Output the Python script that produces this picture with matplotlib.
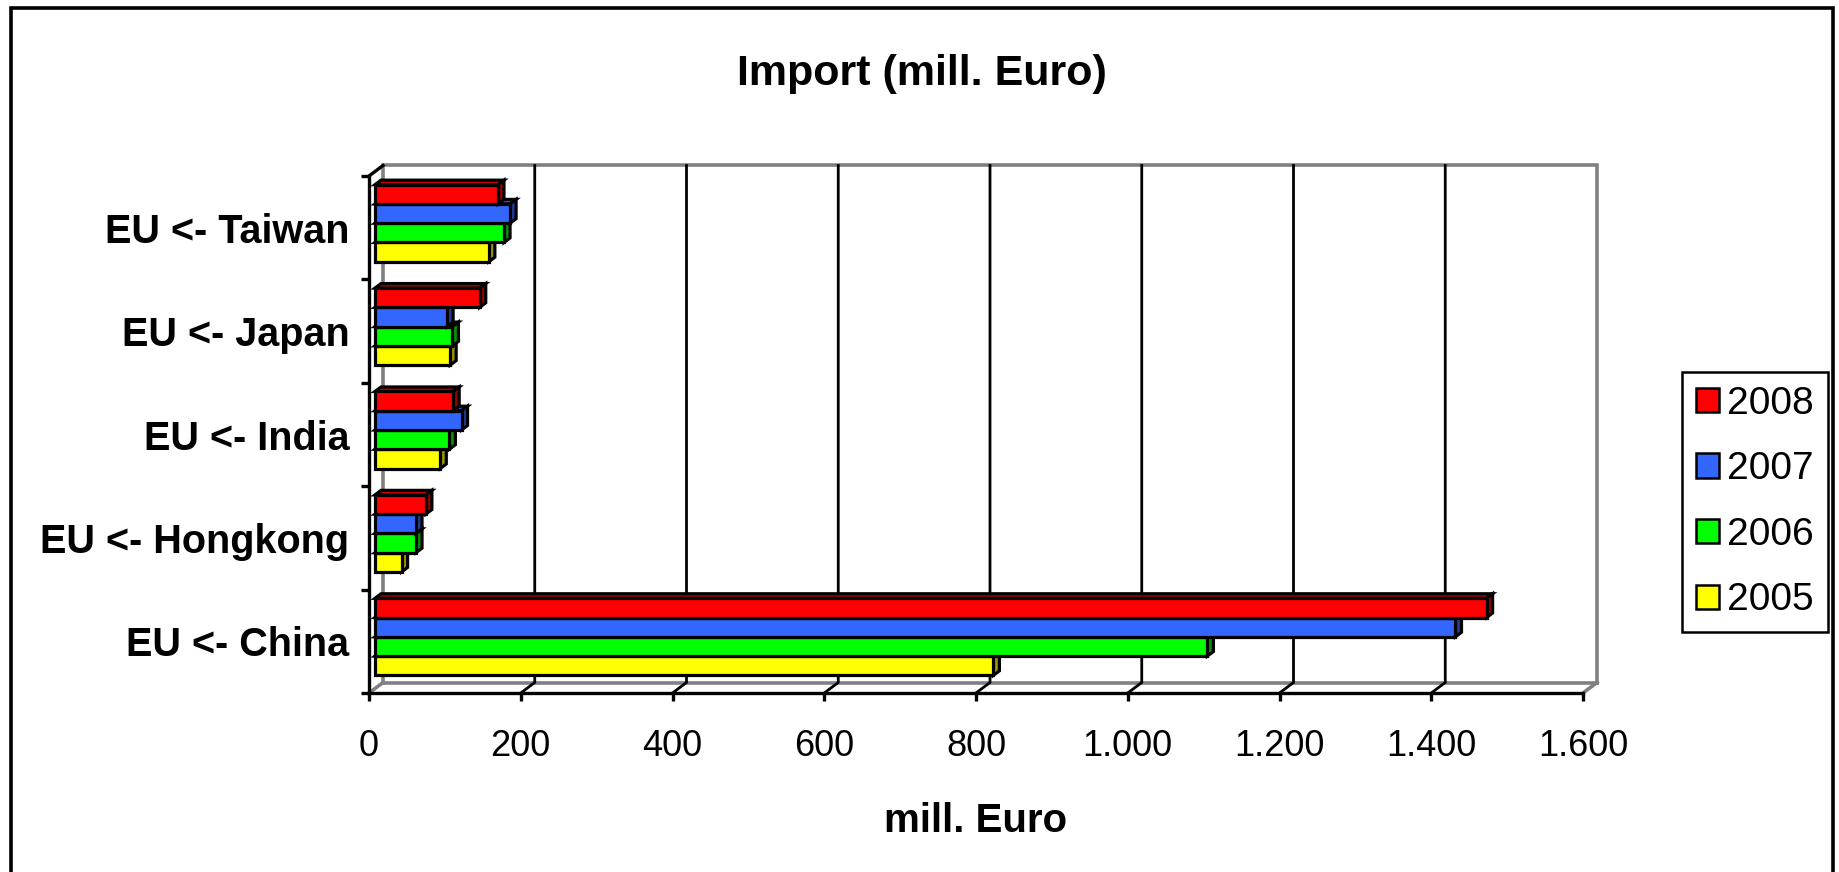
import matplotlib
matplotlib.use("Agg")
import matplotlib.pyplot as plt
from matplotlib.patches import Polygon, Rectangle, Patch
from matplotlib.lines import Line2D

# ---- data -------------------------------------------------------------
categories = ["EU <- China", "EU <- Hongkong", "EU <- India", "EU <- Japan", "EU <- Taiwan"]
years = ["2008", "2007", "2006", "2005"]
v2008 = [1465, 67, 103, 138, 162]
v2007 = [1424, 54, 114, 95, 178]
v2006 = [1097, 54, 98, 102, 170]
v2005 = [815, 35, 86, 99, 150]
xticks = [0, 200, 400, 600, 800, 1000, 1200, 1400, 1600]
xtick_labels = ["0", "200", "400", "600", "800", "1.000", "1.200", "1.400", "1.600"]

series = [v2008, v2007, v2006, v2005]
# front, top and side shading for each year
face_colors = {
    "2008": ("#FF0000", "#C80000", "#960000"),
    "2007": ("#3366FF", "#2850CC", "#1E3C99"),
    "2006": ("#00FF00", "#00C800", "#009600"),
    "2005": ("#FFFF00", "#C8C800", "#969600"),
}

# ---- figure -----------------------------------------------------------
W, H, DPI = 1839, 872, 100
plt.rcParams["font.family"] = ["Liberation Sans", "DejaVu Sans"]
fig = plt.figure(figsize=(W / DPI, H / DPI), dpi=DPI)
fig.patch.set_facecolor("white")

# front plane of the 3-D box
ax = fig.add_axes([369 / W, 1 - 693 / H, (1583 - 369) / W, (693 - 176) / H])
ax.set_xlim(0, 1600)
ax.set_ylim(0, len(categories))
ax.patch.set_visible(False)

ppx = ax.bbox.width / 1600.0
ppy = ax.bbox.height / len(categories)
WALL = (14.0, 10.5)  # depth of the box in pixels (right, up)


def depth(d):
    """Data-space shift for a fraction d of the box depth."""
    return d * WALL[0] / ppx, d * WALL[1] / ppy


GRAY = "#808080"
bx, by = depth(1.0)
ny = len(categories)

# back wall and floor outline
ax.plot([bx, bx, 1600 + bx, 1600 + bx], [by, ny + by, ny + by, by],
        color=GRAY, lw=2.6, clip_on=False, zorder=1, solid_joinstyle="miter")
ax.plot([bx, 1600 + bx], [by, by], color=GRAY, lw=2.6, clip_on=False, zorder=1)
ax.plot([0, bx], [0, by], color=GRAY, lw=2.6, clip_on=False, zorder=1)
ax.plot([1600, 1600 + bx], [0, by], color=GRAY, lw=2.6, clip_on=False, zorder=1)
ax.plot([0, bx], [ny, ny + by], color="black", lw=2.4, clip_on=False, zorder=1)

# gridlines across the floor and up the back wall
for v in xticks[1:-1]:
    ax.plot([v, v + bx, v + bx], [0, by, ny + by], color="black", lw=2.0,
            clip_on=False, zorder=1)

# ---- 3-D bars ---------------------------------------------------------
GROUP = 0.745
BAR_H = GROUP / len(series)
D_FRONT, D_BACK = 0.43, 0.86
fx, fy = depth(D_FRONT)
kx, ky = depth(D_BACK)
EDGE = dict(edgecolor="black", linewidth=2.3, joinstyle="miter", clip_on=False)

z = 3
for j in range(len(categories)):
    for i in reversed(range(len(series))):
        val = series[i][j]
        front_c, top_c, side_c = face_colors[years[i]]
        y_top = j + 0.5 + GROUP / 2 - i * BAR_H
        y_bot = y_top - BAR_H
        ax.add_patch(Polygon([(fx, y_top + fy), (val + fx, y_top + fy),
                              (val + kx, y_top + ky), (kx, y_top + ky)],
                             closed=True, facecolor=top_c, zorder=z, **EDGE))
        ax.add_patch(Polygon([(val + fx, y_bot + fy), (val + fx, y_top + fy),
                              (val + kx, y_top + ky), (val + kx, y_bot + ky)],
                             closed=True, facecolor=side_c, zorder=z, **EDGE))
        ax.add_patch(Rectangle((fx, y_bot + fy), val, BAR_H,
                               facecolor=front_c, zorder=z + 0.5, **EDGE))
        z += 1

# ---- axes -------------------------------------------------------------
for s in ("top", "right"):
    ax.spines[s].set_visible(False)
for s in ("left", "bottom"):
    ax.spines[s].set_linewidth(2.4)
    ax.spines[s].set_color("black")
    ax.spines[s].set_zorder(50)

ax.set_xticks(xticks)
ax.set_xticklabels(xtick_labels, fontsize=26)
ax.tick_params(axis="x", direction="out", length=5.8, width=2.4, pad=20)

ax.set_yticks(range(ny + 1))
ax.set_yticklabels([])
ax.set_yticks([j + 0.5 for j in range(ny)], minor=True)
ax.set_yticklabels(categories, minor=True, fontsize=28.5, fontweight="bold")
ax.tick_params(axis="y", which="major", direction="out", length=5.8, width=2.4)
ax.tick_params(axis="y", which="minor", length=0, pad=14)

ax.set_xlabel("mill. Euro", fontsize=29, fontweight="bold")
ax.xaxis.label.set_va("center")
ax.xaxis.set_label_coords(0.5, -(821 - 693) / (693 - 176))

# ---- title ------------------------------------------------------------
fig.text(922 / W, 1 - 73.5 / H, "Import (mill. Euro)", ha="center", va="center",
         fontsize=31, fontweight="bold")

# ---- legend -----------------------------------------------------------
handles = [Patch(facecolor=face_colors[y][0], edgecolor="black", linewidth=1.8)
           for y in years]
leg = fig.legend(handles, years, loc="center",
                 bbox_to_anchor=((1684 + 1826) / 2 / W, 1 - (369 + 635) / 2 / H),
                 fontsize=28, frameon=True, fancybox=False, shadow=False,
                 borderpad=0.36, handlelength=0.58, handleheight=0.58,
                 handletextpad=0.22, labelspacing=0.76, borderaxespad=0)
leg.get_frame().set_edgecolor("black")
leg.get_frame().set_linewidth(1.8)
leg.get_frame().set_alpha(1)

# ---- outer chart border (runs off the bottom edge) --------------------
fig.add_artist(Line2D([10.5 / W, 10.5 / W, 1833.4 / W, 1833.4 / W],
                      [-0.05, 1 - 8.4 / H, 1 - 8.4 / H, -0.05],
                      transform=fig.transFigure, color="black", lw=2.6,
                      solid_joinstyle="miter"))

fig.savefig("out.png", dpi=DPI)
